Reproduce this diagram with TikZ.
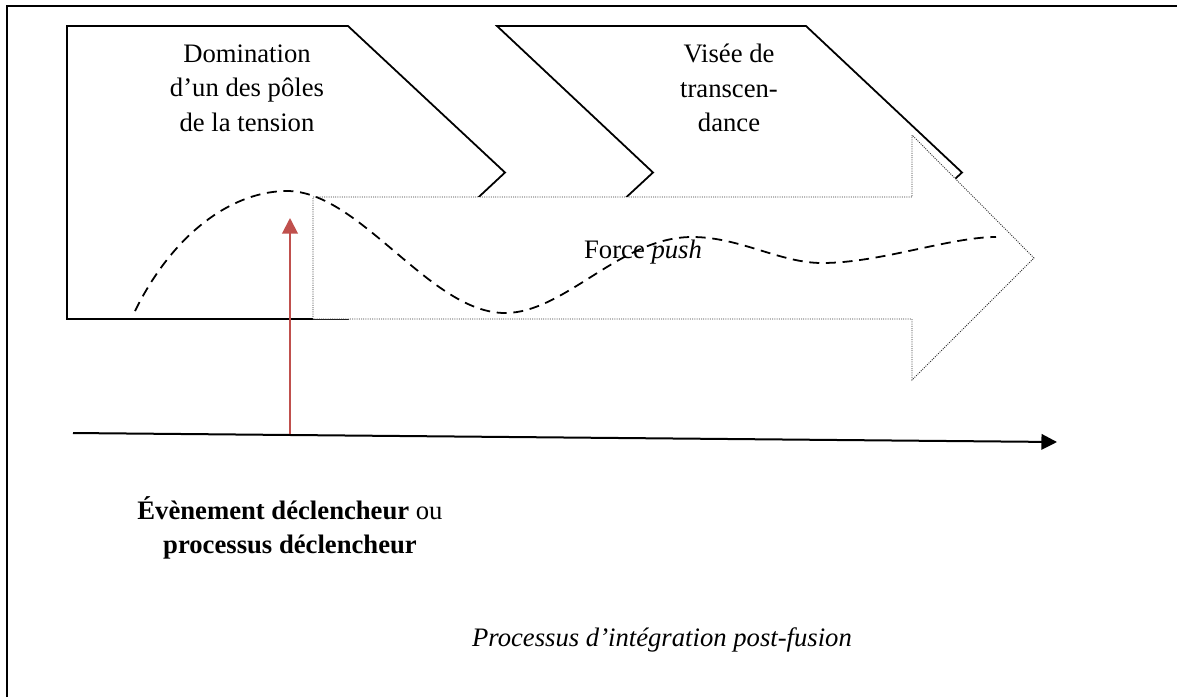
\documentclass[tikz,border=0pt]{standalone}
\usepackage{fontspec}
\setmainfont{Liberation Serif}
\usetikzlibrary{arrows.meta}
\definecolor{trigred}{RGB}{192,80,77}

\begin{document}
\begin{tikzpicture}[x=0.45pt,y=-0.45pt,
    phase/.style={draw,line width=0.8pt,fill=white,line join=miter},
    flow/.style={draw=black!80,line width=0.4pt,fill=white,dash pattern=on 0.45pt off 0.55pt},
    txt/.style={align=center,inner sep=0pt,font=\fontsize{12}{15.5}\selectfont}]

\useasboundingbox (0,0) rectangle (1177,697);

% frame
\draw[line width=0.9pt] (7,697) -- (7,6) -- (1177,6);

% the two phases
\draw[phase] (67,26) -- (348,26) -- (505,172.5) -- (348,319) -- (67,319) -- cycle;
\draw[phase] (497,26) -- (806,26) -- (962,172.5) -- (806,317) -- (497,317) -- (653,172.5) -- cycle;
\node[txt] (dom) at (247,88) {Domination\\d’un des pôles\\de la tension};
\node[txt] (vis) at (729,88) {Visée de\\transcen-\\dance};

% big push arrow
\draw[flow] (313,197) -- (912,197) -- (912,135) -- (1034,258) -- (912,380) -- (912,319) -- (313,319) -- cycle;

% tension curve
\draw[line width=0.8pt,dash pattern=on 4.5pt off 3pt]
  (135,311) .. controls (175,230) and (235,191) .. (287,191)
  .. controls (360,191) and (430,313) .. (505,313)
  .. controls (565,313) and (620,237) .. (692,237)
  .. controls (740,237) and (780,263) .. (822,263)
  .. controls (880,263) and (950,237) .. (996,237);
\node[txt] (push) at (643,252) {Force \textit{push}};

% time axis and trigger
\coordinate (t0) at (73,433);
\coordinate (t1) at (1057,442);
\coordinate (trig) at (290,434);
\coordinate (top) at (290,218);
\draw[line width=0.9pt,-{Triangle[length=7pt,width=7pt]}] (t0) -- (t1);
\draw[trigred,line width=0.9pt,-{Triangle[length=7pt,width=7pt]}] (trig) -- (top);

\node[txt] (evt) at (290,528) {\textbf{Évènement déclencheur} ou\\\textbf{processus déclencheur}};
\node[txt] (proc) at (662,640) {\textit{Processus d’intégration post-fusion}};

\end{tikzpicture}
\end{document}
